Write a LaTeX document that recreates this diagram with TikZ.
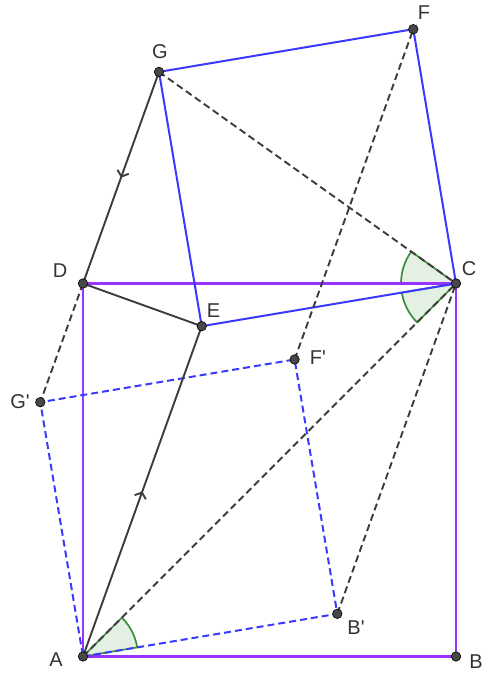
\documentclass[tikz,border=0pt]{standalone}
\usepackage{fontspec}
\setmainfont{Liberation Sans}
\usetikzlibrary{arrows.meta,decorations.markings}
\definecolor{sqpurple}{RGB}{153,51,255}
\definecolor{sqblue}{RGB}{58,58,255}
\definecolor{lgray}{RGB}{60,60,60}
\definecolor{agreen}{RGB}{60,140,60}
\definecolor{afill}{RGB}{228,240,228}
\definecolor{labelc}{RGB}{51,51,51}
\tikzset{
  purpleline/.style={draw=sqpurple, line width=2.2pt},
  blueline/.style={draw=sqblue, line width=2pt},
  bluedash/.style={draw=sqblue, line width=2pt, dash pattern=on 7pt off 4pt},
  graydash/.style={draw=lgray, line width=1.9pt, dash pattern=on 7pt off 4pt},
  grayline/.style={draw=lgray, line width=1.9pt},
  midarrow/.style={postaction={decorate, decoration={markings,
      mark=at position 0.5 with {\arrow{Straight Barb[length=5pt,width=12pt]}}}}},
  anglewedge/.style={draw=agreen, fill=afill, line width=1.7pt},
  pt/.style={circle, fill=black!72, draw=black, line width=0.6pt, inner sep=0pt, minimum size=9.5pt},
  lbl/.style={text=labelc, font=\fontsize{20}{23}\selectfont, inner sep=0pt}
}
\begin{document}
\begin{tikzpicture}[x=1pt,y=1pt]
\useasboundingbox (0,0) rectangle (498,683);
\coordinate (A) at (83,26.5);
\coordinate (B) at (456,26.5);
\coordinate (C) at (456,399.5);
\coordinate (D) at (83,399.5);
\coordinate (Bp) at (337.3,69.2);
\coordinate (Gp) at (40.3,280.8);
\coordinate (Fp) at (294.6,323.5);
\coordinate (E) at (201.7,356.8);
\coordinate (G) at (159.0,611.1);
\coordinate (F) at (413.3,653.8);
% angle wedges
\filldraw[anglewedge] (A) -- ++(9.53:55pt) arc[start angle=9.53, end angle=45, radius=55pt] -- cycle;
\filldraw[anglewedge] (C) -- ++(144.53:55pt) arc[start angle=144.53, end angle=180, radius=55pt] -- cycle;
\filldraw[anglewedge] (C) -- ++(189.53:55pt) arc[start angle=189.53, end angle=225, radius=55pt] -- cycle;
% square ABCD
\draw[purpleline] (A) -- (B) -- (C) -- (D) -- cycle;
% square AB'F'G'
\draw[bluedash] (A) -- (Bp) -- (Fp) -- (Gp) -- cycle;
% square CEGF
\draw[blueline] (C) -- (E) -- (G) -- (F) -- cycle;
% dashed gray lines
\draw[graydash] (G) -- (C);
\draw[graydash] (A) -- (C);
\draw[graydash] (Bp) -- (C);
\draw[graydash] (Fp) -- (F);
\draw[graydash] (D) -- (Gp);
% solid gray lines
\draw[grayline, midarrow] (A) -- (E);
\draw[grayline, midarrow] (G) -- (D);
\draw[grayline] (D) -- (E);
% points
\foreach \p in {A,B,C,D,E,F,G,Bp,Fp,Gp} \node[pt] (n\p) at (\p) {};
% labels
\node[lbl] (lA) at (56,23) {A};
\node[lbl] (lB) at (476,21) {B};
\node[lbl] (lC) at (469,414) {C};
\node[lbl] (lD) at (60,412) {D};
\node[lbl] (lE) at (213.5,372) {E};
\node[lbl] (lF) at (424,670) {F};
\node[lbl] (lG) at (160,631) {G};
\node[lbl] (lFp) at (318,325) {F\textquotesingle};
\node[lbl] (lGp) at (20,281) {G\textquotesingle};
\node[lbl] (lBp) at (356,55) {B\textquotesingle};
\end{tikzpicture}
\end{document}
